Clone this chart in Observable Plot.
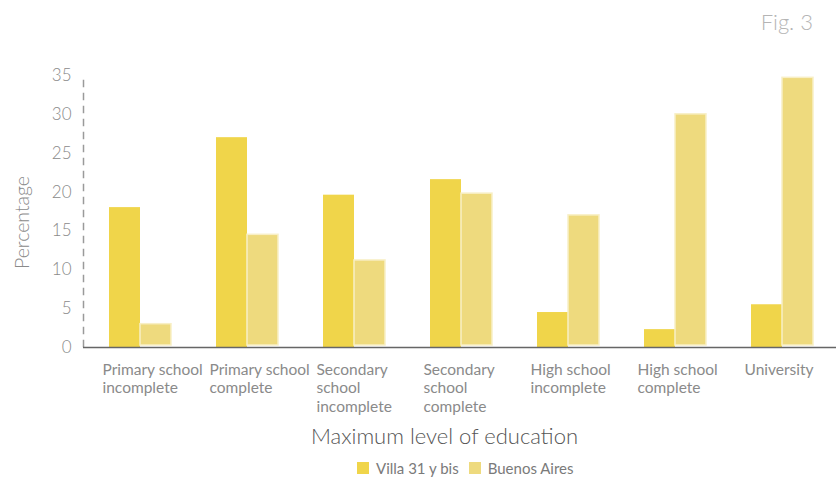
<!DOCTYPE html>
<html>
<head>
<meta charset="utf-8">
<script src="https://cdn.jsdelivr.net/npm/d3@7"></script>
<script src="https://cdn.jsdelivr.net/npm/@observablehq/plot@0.6"></script>
<style>
  html, body { margin: 0; padding: 0; background: #fff; }
  body { width: 836px; height: 479px; position: relative; overflow: hidden; font-family: Lato, "Open Sans", sans-serif; }
  #fig { position: absolute; right: 23px; top: 8px; font-size: 22px; font-weight: 300; color: #b5b5b5; }
  #chart svg { display: block; }
  #legend { display: flex; align-items: center; margin-left: 357px; margin-top: 7px; font-size: 15px; color: #7a7a7a; }
  #legend .item { display: flex; align-items: center; margin-right: 10px; }
  #legend .sw { width: 12px; height: 12px; margin-right: 7px; }
</style>
</head>
<body>
<div id="fig">Fig. 3</div>
<div id="chart"></div>
<div id="legend"></div>
<script>
const categories = [
  "Primary school incomplete",
  "Primary school complete",
  "Secondary school incomplete",
  "Secondary school complete",
  "High school incomplete",
  "High school complete",
  "University"
];
const tickLabels = [
  "Primary school\nincomplete",
  "Primary school\ncomplete",
  "Secondary\nschool\nincomplete",
  "Secondary\nschool\ncomplete",
  "High school\nincomplete",
  "High school\ncomplete",
  "University"
];
const seriesNames = ["Villa 31 y bis", "Buenos Aires"];
const villa = [18, 27, 19.6, 21.6, 4.5, 2.3, 5.5];
const buenosAires = [3, 14.5, 11.2, 19.8, 17, 30, 34.7];
const yTicks = [0, 5, 10, 15, 20, 25, 30, 35];
const colors = ["#f0d54a", "#eeda7e"];
const xTitle = "Maximum level of education";
const yTitle = "Percentage";

const villaData = categories.map((c, i) => ({category: c, value: villa[i]}));
const baData = categories.map((c, i) => ({category: c, value: buenosAires[i]}));
const labelOf = new Map(categories.map((c, i) => [c, tickLabels[i]]));

const chart = Plot.plot({
  width: 836,
  height: 452,
  marginTop: 75,
  marginBottom: 105,
  marginLeft: 86,
  marginRight: 0,
  style: {fontFamily: "Lato, 'Open Sans', sans-serif", background: "#fff"},
  x: {domain: categories, paddingInner: 0.42, paddingOuter: 0.21, axis: null},
  y: {domain: [0, 35], axis: null},
  marks: [
    Plot.frame({anchor: "left", stroke: "#9a9a9a", strokeWidth: 1.5, strokeDasharray: "6,7", dx: -3, insetTop: 5}),
    Plot.barY(villaData, {x: "category", y: "value", fill: colors[0], insetRight: 31}),
    Plot.barY(baData, {x: "category", y: "value", fill: colors[1], stroke: "#f8efc6", strokeWidth: 1.5, insetLeft: 31, insetBottom: 2}),
    Plot.ruleY([0], {stroke: "#666", strokeWidth: 1.5, insetLeft: -3}),
    Plot.axisY({ticks: yTicks, tickSize: 0, tickPadding: 15, fontSize: 17, fill: "#8a8a8a", label: null, fontWeight: 300}),
    Plot.axisX({anchor: "bottom", tickSize: 0, tickPadding: 14, textAnchor: "start", dx: -38, lineHeight: 1.2, fontSize: 15.5, fill: "#8a8a8a", tickFormat: d => labelOf.get(d), label: null}),
    Plot.text([xTitle], {frameAnchor: "bottom", dx: -17, dy: 96, fontSize: 22, fill: "#555", fontWeight: 300}),
    Plot.text([yTitle], {frameAnchor: "left", textAnchor: "middle", rotate: -90, dx: -64, dy: 11, fontSize: 19.5, fill: "#8a8a8a", fontWeight: 300})
  ]
});
document.getElementById("chart").appendChild(chart);

const legend = document.getElementById("legend");
seriesNames.forEach((name, i) => {
  const item = document.createElement("div");
  item.className = "item";
  const sw = document.createElement("div");
  sw.className = "sw";
  sw.style.background = colors[i];
  const lab = document.createElement("span");
  lab.textContent = name;
  item.appendChild(sw);
  item.appendChild(lab);
  legend.appendChild(item);
});
</script>
</body>
</html>
